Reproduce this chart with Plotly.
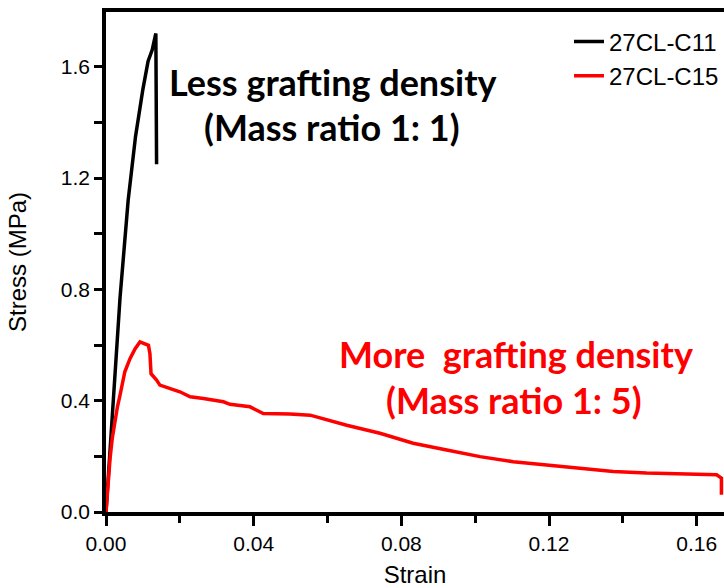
import plotly.graph_objects as go

# Data
c11_strain = [0.0, 0.001, 0.002, 0.0038, 0.006, 0.008, 0.010, 0.0114, 0.0125, 0.0135, 0.0137]
c11_stress = [0.0, 0.20, 0.40, 0.77, 1.12, 1.35, 1.52, 1.62, 1.66, 1.72, 1.25]

c15_strain = [0.0, 0.0005, 0.0011, 0.0017, 0.0024, 0.0031, 0.0038, 0.0051, 0.0065, 0.0079, 0.0092,
              0.0115, 0.0119, 0.0122, 0.0137, 0.0146, 0.0200, 0.0228, 0.0264, 0.0318, 0.0336,
              0.0390, 0.0426, 0.0444, 0.0498, 0.0553, 0.0652, 0.0742, 0.0832, 0.0923, 0.1013,
              0.1103, 0.1193, 0.1284, 0.1374, 0.1464, 0.1555, 0.1654, 0.1667, 0.1667]
c15_stress = [0.0, 0.105, 0.193, 0.265, 0.326, 0.378, 0.420, 0.504, 0.551, 0.587, 0.611,
              0.599, 0.569, 0.497, 0.474, 0.456, 0.432, 0.414, 0.408, 0.396, 0.387,
              0.378, 0.354, 0.354, 0.352, 0.348, 0.312, 0.283, 0.247, 0.223, 0.199,
              0.181, 0.169, 0.160, 0.146, 0.140, 0.136, 0.134, 0.122, 0.062]

series_names = ["27CL-C11", "27CL-C15"]
x_ticks = [0.0, 0.04, 0.08, 0.12, 0.16]
y_ticks = [0.0, 0.4, 0.8, 1.2, 1.6]

fig = go.Figure()
fig.add_trace(go.Scatter(x=c11_strain, y=c11_stress, mode="lines", name=series_names[0],
                         line=dict(color="black", width=3.5)))
fig.add_trace(go.Scatter(x=c15_strain, y=c15_stress, mode="lines", name=series_names[1],
                         line=dict(color="red", width=3.5)))

fam = "Arial, Liberation Sans"
tick_font = dict(family=fam, size=21, color="black")
title_font = dict(family=fam, size=24, color="black")
fig.update_layout(
    width=724, height=588,
    margin=dict(l=106, r=0, t=12, b=74),
    plot_bgcolor="white", paper_bgcolor="white",
    showlegend=True,
    legend=dict(x=1.0, xanchor="right", y=0.985, yanchor="top",
                bgcolor="rgba(0,0,0,0)", font=dict(family=fam, size=24, color="black"),
                tracegroupgap=0, itemwidth=30),
    xaxis=dict(range=[0, 0.1674], tickvals=x_ticks, ticktext=[f"{v:.2f}" for v in x_ticks],
               ticks="outside", ticklen=10, tickwidth=3, tickcolor="black",
               minor=dict(dtick=0.02, tick0=0, ticks="outside", ticklen=7, tickwidth=3, tickcolor="black"),
               showline=True, linewidth=3.5, linecolor="black", mirror=True,
               showgrid=False, zeroline=False, tickfont=tick_font,
               title=dict(text="Strain", font=title_font, standoff=16)),
    yaxis=dict(range=[0, 1.797], tickvals=y_ticks, ticktext=[f"{v:.1f}" for v in y_ticks],
               ticks="outside", ticklen=8, tickwidth=3, tickcolor="black",
               minor=dict(dtick=0.2, tick0=0, ticks="outside", ticklen=8, tickwidth=3, tickcolor="black"),
               showline=True, linewidth=3.5, linecolor="black",
               showgrid=False, zeroline=False, tickfont=tick_font,
               title=dict(text="Stress (MPa)", font=title_font, standoff=28)),
)

ann_font_b = dict(family="Lato, Open Sans", size=36, color="black", weight="bold")
ann_font_r = dict(family="Lato, Open Sans", size=36, color="red", weight="bold")
fig.add_annotation(x=0.0615, y=1.546, text="<b>Less grafting density</b>", showarrow=False, font=ann_font_b)
fig.add_annotation(x=0.0612, y=1.385, text="<b>(Mass ratio 1: 1)</b>", showarrow=False, font=ann_font_b)
fig.add_annotation(x=0.111, y=0.569, text="<b>More&nbsp; grafting density</b>", showarrow=False, font=ann_font_r)
fig.add_annotation(x=0.1105, y=0.404, text="<b>(Mass ratio 1: 5)</b>", showarrow=False, font=ann_font_r)

fig.write_html("out.html", config={"displayModeBar": False},
               post_script="document.body.style.margin='0';document.body.style.overflow='hidden';")
